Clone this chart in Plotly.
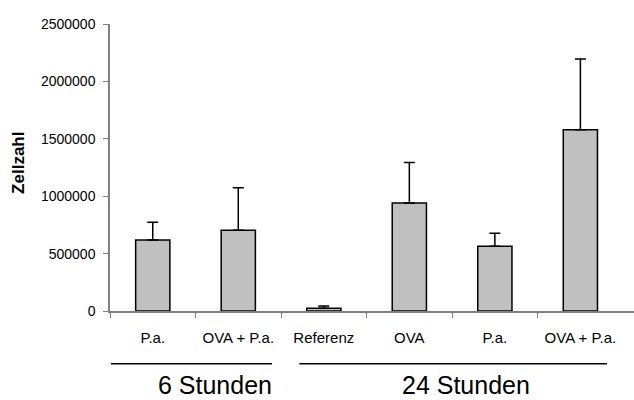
import plotly.graph_objects as go

categories = ["P.a.", "OVA + P.a.", "Referenz", "OVA", "P.a.", "OVA + P.a."]
values = [618000, 703000, 25000, 941000, 563000, 1578000]
errors = [155000, 370000, 18000, 352000, 114000, 617000]
groups = ["6 Stunden", "24 Stunden"]
y_ticks = [0, 500000, 1000000, 1500000, 2000000, 2500000]
y_title = "Zellzahl"

FONT = "Liberation Sans, Arial, sans-serif"
xpos = list(range(len(categories)))

fig = go.Figure()
fig.add_trace(go.Bar(
    x=xpos, y=values, width=0.4,
    marker=dict(color="#c0c0c0", line=dict(color="black", width=1.5)),
    error_y=dict(type="data", array=errors, arrayminus=[0] * len(errors),
                 symmetric=False, color="black", thickness=1.5, width=5.5),
    showlegend=False, hoverinfo="skip",
))

# group bracket lines and labels
group_spans = [(-0.49, 1.395), (1.714, 5.31)]
group_centers = [0.733, 3.66]
shapes = []
annotations = []
for (x0, x1), cx, name in zip(group_spans, group_centers, groups):
    shapes.append(dict(type="line", xref="x", yref="paper", x0=x0, x1=x1,
                       y0=-0.1836, y1=-0.1836, line=dict(color="black", width=1.5)))
    annotations.append(dict(text=name, xref="x", yref="paper", x=cx, y=-0.3115,
                            xanchor="center", yanchor="bottom", showarrow=False,
                            borderpad=0,
                            font=dict(family=FONT, size=25, color="black")))

annotations.append(dict(text="<b>" + y_title + "</b>", xref="paper", yref="paper",
                        x=0, xshift=-91, y=0.516, textangle=-90,
                        xanchor="center", yanchor="middle", showarrow=False,
                        font=dict(family=FONT, size=17, color="black")))

fig.update_layout(
    width=634, height=400,
    margin=dict(l=110, r=0, t=24, b=89, pad=0),
    plot_bgcolor="white", paper_bgcolor="white",
    font=dict(family=FONT, size=14, color="black"),
    shapes=shapes, annotations=annotations,
    bargap=0.6,
    xaxis=dict(
        range=[-0.5, 5.627], showgrid=False, zeroline=False,
        showline=True, linecolor="#808080", linewidth=1.5,
        tickmode="array", tickvals=xpos, ticktext=categories,
        ticks="outside", ticklen=12, tickcolor="rgba(0,0,0,0)",
        tickfont=dict(family=FONT, size=15, color="black"),
        minor=dict(tickmode="array", tickvals=[-0.5, 0.5, 1.5, 2.5, 3.5, 4.5],
                   ticks="outside", ticklen=5, tickcolor="#808080", tickwidth=1,
                   showgrid=False),
    ),
    yaxis=dict(
        range=[0, 2500000], showgrid=False, zeroline=False,
        showline=True, linecolor="#808080", linewidth=1.5,
        tickmode="array", tickvals=y_ticks, ticktext=[str(v) for v in y_ticks],
        ticks="outside", ticklen=5, tickcolor="#808080", tickwidth=1,
        ticklabelstandoff=5,
        tickfont=dict(family=FONT, size=14, color="black"),
    ),
)

fig.write_html("out.html")
